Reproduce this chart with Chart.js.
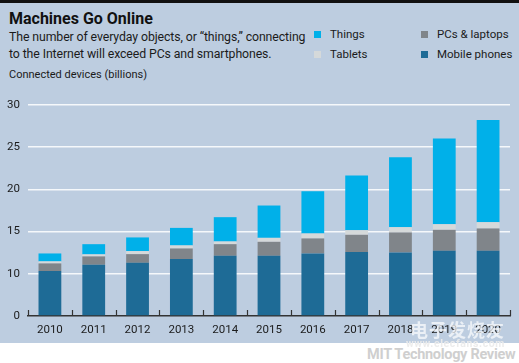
<!DOCTYPE html>
<html>
<head>
<meta charset="utf-8">
<script src="https://cdn.jsdelivr.net/npm/chart.js@4.4.1/dist/chart.umd.min.js"></script>
<style>
  body { margin: 0; width: 519px; height: 363px; background: #fff; position: relative; overflow: hidden; font-family: Roboto, sans-serif; }
  #topbar { position: absolute; left: 0; top: 0; width: 519px; height: 3px; background: #111; }
  #panel { position: absolute; left: 0; top: 3px; width: 519px; height: 340px; background: #bdcde0; }
  #title { position: absolute; left: 9px; top: 9px; font: 700 16px Roboto, sans-serif; color: #111; white-space: nowrap; }
  #subtitle { position: absolute; left: 9px; top: 29px; font-size: 12.3px; line-height: 17px; color: #1b1b1b; white-space: nowrap; letter-spacing: -0.1px; }
  #unit { position: absolute; left: 9px; top: 68px; font-size: 11px; color: #1b1b1b; white-space: nowrap; }
  #legend { position: absolute; left: 314px; top: 27px; display: grid; grid-template-columns: 107px 100px; row-gap: 6px; font-size: 11.5px; color: #1b1b1b; }
  #legend span { display: flex; align-items: center; height: 14px; white-space: nowrap; }
  #legend i { display: inline-block; width: 7px; height: 7px; margin-right: 9px; }
  #chart { position: absolute; left: 0; top: 85px; }
  #credit { position: absolute; left: 367px; top: 346px; font: 700 14.5px Roboto, sans-serif; color: #cfcfcf; white-space: nowrap; letter-spacing: -0.3px; }
  #mark { position: absolute; left: 410px; top: 316px; font: 700 18px 'Noto Sans CJK SC', sans-serif; color: rgba(255,255,255,0.7); letter-spacing: 1px; white-space: nowrap; }
  #site { position: absolute; left: 406px; top: 337px; font: 700 10.5px Roboto, sans-serif; color: rgba(235,235,235,0.95); letter-spacing: 0.6px; white-space: nowrap; }
</style>
</head>
<body>
<div id="topbar"></div>
<div id="panel"></div>
<div id="title">Machines Go Online</div>
<div id="subtitle">The number of everyday objects, or “things,” connecting<br>to the Internet will exceed PCs and smartphones.</div>
<div id="unit">Connected devices (billions)</div>
<div id="legend"></div>
<canvas id="chart" width="519" height="258"></canvas>
<div id="credit">MIT Technology Review</div>
<div id="mark">电子发烧友</div>
<div id="site">www.elecfans.com</div>
<script>
const years = ['2010', '2011', '2012', '2013', '2014', '2015', '2016', '2017', '2018', '2019', '2020'];
const mobilePhones = [10.32, 11.07, 11.30, 11.74, 12.13, 12.13, 12.41, 12.57, 12.53, 12.72, 12.72];
const pcsLaptops = [0.91, 0.99, 1.03, 1.26, 1.38, 1.66, 1.78, 2.05, 2.37, 2.49, 2.65];
const tablets = [0.24, 0.24, 0.36, 0.36, 0.32, 0.47, 0.59, 0.55, 0.63, 0.67, 0.75];
const things = [0.94, 1.21, 1.62, 2.08, 2.88, 3.83, 5.01, 6.47, 8.28, 10.14, 12.11];
const yTicks = [0, 10, 15, 20, 25, 30];

// the axis is broken: 0-10 takes the same room as one 5-unit step
const warp = v => (v <= 10 ? v / 2 : v - 5);
const unwarp = w => (w <= 5 ? w * 2 : w + 5);

class BrokenScale extends Chart.LinearScale {
  getPixelForValue(value) {
    return this.getPixelForDecimal(warp(value) / warp(this.max));
  }
  getValueForPixel(pixel) {
    return unwarp(this.getDecimalForPixel(pixel) * warp(this.max));
  }
}
BrokenScale.id = 'broken';
BrokenScale.defaults = Chart.LinearScale.defaults;
Chart.register(BrokenScale);

const tickFont = { family: 'Roboto, sans-serif', size: 11.5 };

// small upward tick marks between the years
const categoryTicks = {
  id: 'categoryTicks',
  afterDatasetsDraw(chart) {
    const x = chart.scales.x;
    const n = chart.data.labels.length;
    const step = (x.right - x.left) / n;
    const ctx = chart.ctx;
    ctx.save();
    ctx.strokeStyle = '#333';
    ctx.lineWidth = 1.2;
    ctx.beginPath();
    for (let i = 0; i <= n; i++) {
      const px = Math.round(x.left + i * step) + 0.5;
      ctx.moveTo(px, x.top);
      ctx.lineTo(px, x.top - 6);
    }
    ctx.stroke();
    ctx.restore();
  }
};

const chart = new Chart(document.getElementById('chart'), {
  type: 'bar',
  data: {
    labels: years,
    datasets: [
      { label: 'Mobile phones', data: mobilePhones, backgroundColor: '#1e6b96' },
      { label: 'PCs & laptops', data: pcsLaptops, backgroundColor: '#80858a' },
      { label: 'Tablets', data: tablets, backgroundColor: '#d5d9da' },
      { label: 'Things', data: things, backgroundColor: '#00b0e9' }
    ]
  },
  options: {
    responsive: false,
    devicePixelRatio: 1,
    animation: false,
    categoryPercentage: 1,
    barPercentage: 0.52,
    layout: { padding: { left: 0, right: 9, top: 20, bottom: 0 } },
    plugins: {
      legend: { display: false },
      tooltip: { enabled: false }
    },
    scales: {
      x: {
        stacked: true,
        offset: true,
        grid: { drawOnChartArea: false, drawTicks: false },
        border: { display: true, color: '#333', width: 1.5 },
        ticks: { font: tickFont, color: '#1b1b1b', padding: 7, maxRotation: 0 },
        afterFit: s => { s.height = 27; }
      },
      y: {
        type: 'broken',
        stacked: true,
        min: 0,
        max: 30,
        afterBuildTicks: s => { s.ticks = yTicks.map(v => ({ value: v })); },
        afterFit: s => { s.width = 28; },
        border: { display: false },
        grid: {
          drawTicks: false,
          lineWidth: 1.5,
          color: ctx => (ctx.tick && ctx.tick.value === 0 ? 'rgba(0,0,0,0)' : 'rgba(255,255,255,0.85)')
        },
        ticks: { font: tickFont, color: '#1b1b1b', padding: 8, callback: v => String(v) }
      }
    }
  },
  plugins: [categoryTicks]
});

// legend laid out in two columns like the original
const order = ['Things', 'PCs & laptops', 'Tablets', 'Mobile phones'];
const legend = document.getElementById('legend');
order.forEach(name => {
  const ds = chart.data.datasets.find(d => d.label === name);
  const item = document.createElement('span');
  item.innerHTML = `<i style="background:${ds.backgroundColor}"></i>${ds.label}`;
  legend.appendChild(item);
});
</script>
</body>
</html>
